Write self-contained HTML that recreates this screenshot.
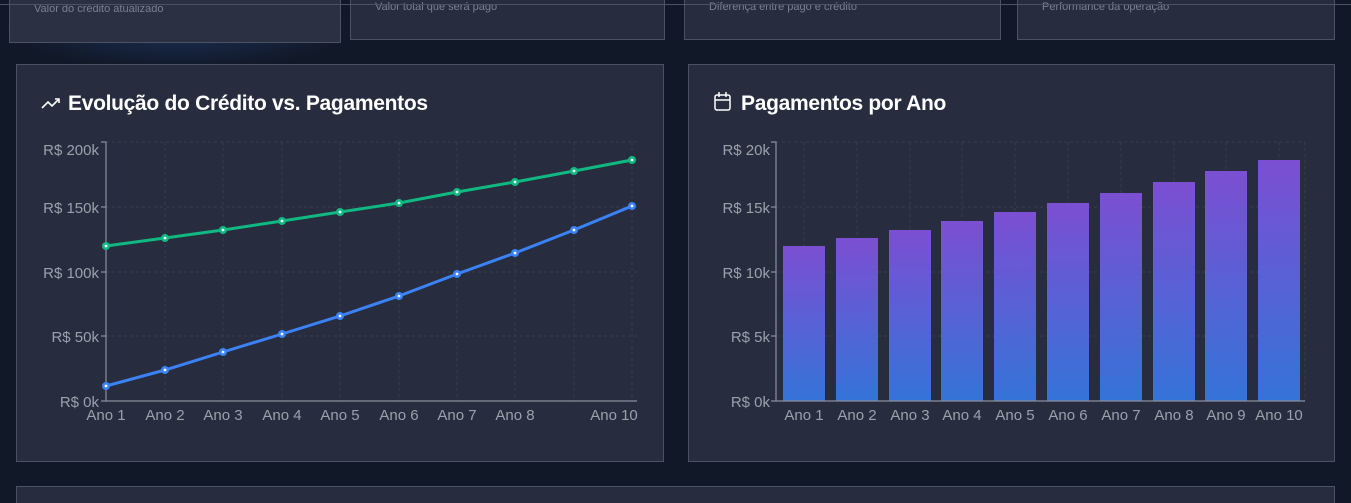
<!DOCTYPE html>
<html><head><meta charset="utf-8"><style>
html,body{margin:0;padding:0;width:1351px;height:503px;overflow:hidden;background:#111827;font-family:"Liberation Sans",sans-serif}
.card{position:absolute;background:#272d3e;border:1px solid #4a5263;box-sizing:border-box}
.sub{position:absolute;font-size:11px;color:#7a8190}
h2{position:absolute;margin:0;font-size:21px;color:#fff;font-weight:bold;letter-spacing:-0.3px}
</style></head><body>
<div style="position:absolute;left:0;top:0;width:360px;height:70px;background:radial-gradient(ellipse at 50% 40%,#1b2f55 0%,#111827 70%)"></div>
<div class="card" style="left:9px;top:-10px;width:332px;height:53px;background:#2b3142"></div>
<div class="sub" style="left:34px;top:3px">Valor do crédito atualizado</div>
<div class="card" style="left:350px;top:-10px;width:315px;height:50px"></div>
<div class="sub" style="left:375px;top:1px">Valor total que será pago</div>
<div class="card" style="left:684px;top:-10px;width:317px;height:50px"></div>
<div class="sub" style="left:709px;top:1px">Diferença entre pago e crédito</div>
<div class="card" style="left:1017px;top:-10px;width:318px;height:50px"></div>
<div class="sub" style="left:1042px;top:1px">Performance da operação</div>
<div style="position:absolute;left:0;top:4px;width:1351px;height:1px;background:#4a5263"></div>

<div class="card" style="left:16px;top:64px;width:648px;height:398px"></div>
<div class="card" style="left:688px;top:64px;width:647px;height:398px"></div>
<div class="card" style="left:16px;top:486px;width:1319px;height:17px;border-bottom:none"></div>

<h2 style="left:68px;top:92px">Evolução do Crédito vs. Pagamentos</h2>
<h2 style="left:741px;top:92px">Pagamentos por Ano</h2>

<svg width="1351" height="503" style="position:absolute;left:0;top:0" font-family="Liberation Sans, sans-serif">
<polyline points="42,108 48,102 52,106 59,99" fill="none" stroke="#fff" stroke-width="1.6"/>
<polyline points="55,99 59,99 59,103" fill="none" stroke="#fff" stroke-width="1.6"/>
<rect x="715" y="95" width="15" height="15" rx="2" fill="none" stroke="#fff" stroke-width="1.5"/>
<line x1="715" y1="100" x2="730" y2="100" stroke="#fff" stroke-width="1.5"/>
<line x1="719" y1="92" x2="719" y2="97" stroke="#fff" stroke-width="1.5"/>
<line x1="726" y1="92" x2="726" y2="97" stroke="#fff" stroke-width="1.5"/>

<g stroke="#353d4c" stroke-dasharray="3,3" stroke-width="1">
<line x1="106" y1="142" x2="637" y2="142"/><line x1="106" y1="207" x2="637" y2="207"/>
<line x1="106" y1="272" x2="637" y2="272"/><line x1="106" y1="336" x2="637" y2="336"/>
<line x1="165" y1="142" x2="165" y2="401"/><line x1="223" y1="142" x2="223" y2="401"/>
<line x1="282" y1="142" x2="282" y2="401"/><line x1="340" y1="142" x2="340" y2="401"/>
<line x1="399" y1="142" x2="399" y2="401"/><line x1="457" y1="142" x2="457" y2="401"/>
<line x1="515" y1="142" x2="515" y2="401"/><line x1="574" y1="142" x2="574" y2="401"/>
<line x1="632" y1="142" x2="632" y2="401"/>
</g>
<g stroke="#8a909c" stroke-width="1.2" fill="none">
<polyline points="101,142 106,142 106,401 637,401"/>
<line x1="101" y1="207" x2="106" y2="207"/><line x1="101" y1="272" x2="106" y2="272"/><line x1="101" y1="336" x2="106" y2="336"/><line x1="101" y1="401" x2="106" y2="401"/>
</g>
<g fill="#9ba1ab" font-size="15" text-anchor="end">
<text x="99" y="155">R$ 200k</text><text x="99" y="213">R$ 150k</text><text x="99" y="278">R$ 100k</text><text x="99" y="342">R$ 50k</text><text x="99" y="407">R$ 0k</text>
</g>
<g fill="#9ba1ab" font-size="15" text-anchor="middle">
<text x="106" y="420">Ano 1</text><text x="165" y="420">Ano 2</text><text x="223" y="420">Ano 3</text><text x="282" y="420">Ano 4</text><text x="340" y="420">Ano 5</text><text x="399" y="420">Ano 6</text><text x="457" y="420">Ano 7</text><text x="515" y="420">Ano 8</text><text x="614" y="420">Ano 10</text>
</g>
<polyline fill="none" stroke="#10b981" stroke-width="3" points="106,246 165,238 223,230 282,221 340,212 399,203 457,192 515,182 574,171 632,160"/>
<polyline fill="none" stroke="#3b82f6" stroke-width="3" points="106,386 165,370 223,352 282,334 340,316 399,296 457,274 515,253 574,230 632,206"/>
<g fill="#10b981"><circle cx="106" cy="246" r="4"/><circle cx="165" cy="238" r="4"/><circle cx="223" cy="230" r="4"/><circle cx="282" cy="221" r="4"/><circle cx="340" cy="212" r="4"/><circle cx="399" cy="203" r="4"/><circle cx="457" cy="192" r="4"/><circle cx="515" cy="182" r="4"/><circle cx="574" cy="171" r="4"/><circle cx="632" cy="160" r="4"/></g>
<g fill="#3b82f6"><circle cx="106" cy="386" r="4"/><circle cx="165" cy="370" r="4"/><circle cx="223" cy="352" r="4"/><circle cx="282" cy="334" r="4"/><circle cx="340" cy="316" r="4"/><circle cx="399" cy="296" r="4"/><circle cx="457" cy="274" r="4"/><circle cx="515" cy="253" r="4"/><circle cx="574" cy="230" r="4"/><circle cx="632" cy="206" r="4"/></g>
<g fill="#fff"><circle cx="106" cy="246" r="1.4"/><circle cx="165" cy="238" r="1.4"/><circle cx="223" cy="230" r="1.4"/><circle cx="282" cy="221" r="1.4"/><circle cx="340" cy="212" r="1.4"/><circle cx="399" cy="203" r="1.4"/><circle cx="457" cy="192" r="1.4"/><circle cx="515" cy="182" r="1.4"/><circle cx="574" cy="171" r="1.4"/><circle cx="632" cy="160" r="1.4"/>
<circle cx="106" cy="386" r="1.4"/><circle cx="165" cy="370" r="1.4"/><circle cx="223" cy="352" r="1.4"/><circle cx="282" cy="334" r="1.4"/><circle cx="340" cy="316" r="1.4"/><circle cx="399" cy="296" r="1.4"/><circle cx="457" cy="274" r="1.4"/><circle cx="515" cy="253" r="1.4"/><circle cx="574" cy="230" r="1.4"/><circle cx="632" cy="206" r="1.4"/></g>

<defs><linearGradient id="bg" x1="0" y1="0" x2="0" y2="1"><stop offset="0" stop-color="#7c4fd2"/><stop offset="1" stop-color="#3473d8"/></linearGradient></defs>
<g stroke="#353d4c" stroke-dasharray="3,3">
<line x1="776" y1="142" x2="1305" y2="142"/><line x1="776" y1="207" x2="1305" y2="207"/><line x1="776" y1="272" x2="1305" y2="272"/><line x1="776" y1="336" x2="1305" y2="336"/>
<line x1="804" y1="142" x2="804" y2="401"/><line x1="857" y1="142" x2="857" y2="401"/><line x1="910" y1="142" x2="910" y2="401"/><line x1="962" y1="142" x2="962" y2="401"/><line x1="1015" y1="142" x2="1015" y2="401"/><line x1="1068" y1="142" x2="1068" y2="401"/><line x1="1121" y1="142" x2="1121" y2="401"/><line x1="1174" y1="142" x2="1174" y2="401"/><line x1="1226" y1="142" x2="1226" y2="401"/><line x1="1279" y1="142" x2="1279" y2="401"/><line x1="1305" y1="142" x2="1305" y2="401"/>
</g>
<g fill="url(#bg)">
<rect x="783" y="246" width="42" height="155"/><rect x="836" y="238" width="42" height="163"/><rect x="889" y="230" width="42" height="171"/><rect x="941" y="221" width="42" height="180"/><rect x="994" y="212" width="42" height="189"/><rect x="1047" y="203" width="42" height="198"/><rect x="1100" y="193" width="42" height="208"/><rect x="1153" y="182" width="42" height="219"/><rect x="1205" y="171" width="42" height="230"/><rect x="1258" y="160" width="42" height="241"/>
</g>
<g stroke="#8a909c" stroke-width="1.2" fill="none">
<polyline points="771,142 776,142 776,401 1305,401"/>
<line x1="771" y1="207" x2="776" y2="207"/><line x1="771" y1="272" x2="776" y2="272"/><line x1="771" y1="336" x2="776" y2="336"/><line x1="771" y1="401" x2="776" y2="401"/>
</g>
<g fill="#9ba1ab" font-size="15" text-anchor="end">
<text x="770" y="155">R$ 20k</text><text x="770" y="213">R$ 15k</text><text x="770" y="278">R$ 10k</text><text x="770" y="342">R$ 5k</text><text x="770" y="407">R$ 0k</text>
</g>
<g fill="#9ba1ab" font-size="15" text-anchor="middle">
<text x="804" y="420">Ano 1</text><text x="857" y="420">Ano 2</text><text x="910" y="420">Ano 3</text><text x="962" y="420">Ano 4</text><text x="1015" y="420">Ano 5</text><text x="1068" y="420">Ano 6</text><text x="1121" y="420">Ano 7</text><text x="1174" y="420">Ano 8</text><text x="1226" y="420">Ano 9</text><text x="1279" y="420">Ano 10</text>
</g>
</svg>
</body></html>
